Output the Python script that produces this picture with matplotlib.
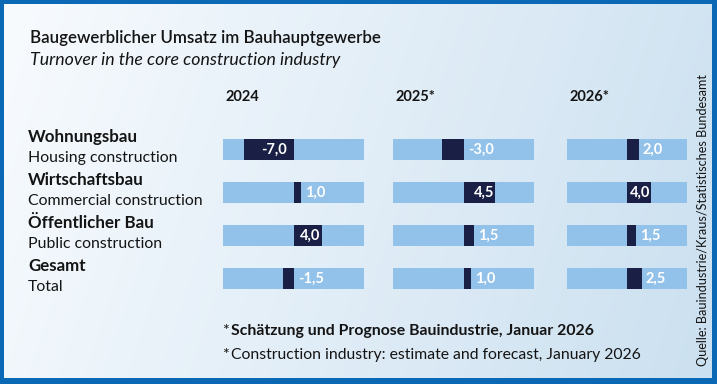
import matplotlib
matplotlib.use("Agg")
import matplotlib.pyplot as plt
import numpy as np
from matplotlib.patches import Rectangle

# ── Daten ─────────────────────────────────────────────
YEARS = ["2024", "2025*", "2026*"]
ROWS_DE = ["Wohnungsbau", "Wirtschaftsbau", "Öffentlicher Bau", "Gesamt"]
ROWS_EN = ["Housing construction", "Commercial construction",
           "Public construction", "Total"]
V_2024 = [-7.0, 1.0, 4.0, -1.5]
V_2025 = [-3.0, 4.5, 1.5, 1.0]
V_2026 = [2.0, 4.0, 1.5, 2.5]
VALUES = [V_2024, V_2025, V_2026]

TITLE_DE = "Baugewerblicher Umsatz im Bauhauptgewerbe"
TITLE_EN = "Turnover in the core construction industry"
NOTE_DE = "Schätzung und Prognose Bauindustrie, Januar 2026"
NOTE_EN = "Construction industry: estimate and forecast, January 2026"
SOURCE = "Quelle: Bauindustrie/Kraus/Statistisches Bundesamt"

LIGHT = "#92c1e9"
DARK = "#1a1f45"
FRAME = "#0b68b4"
TXT = "#141414"
W, H = 717, 384

plt.rcParams["font.family"] = ["Lato", "DejaVu Sans"]

fig = plt.figure(figsize=(W / 100, H / 100), dpi=100)
fig.patch.set_facecolor("white")

# Hintergrund in Pixelkoordinaten
bg = fig.add_axes([0, 0, 1, 1])
bg.set_xlim(0, W)
bg.set_ylim(H, 0)
bg.axis("off")
bg.add_patch(Rectangle((0, 0), 716, 383, color=FRAME, zorder=0))
c0 = np.array([0xf8, 0xfb, 0xfe]) / 255
c1 = np.array([0xcb, 0xe0, 0xf0]) / 255
xx = np.linspace(0, 1, 256)
yy = np.linspace(0, 1, 64)[:, None]
t = np.clip(0.85 * xx[None, :] + 0.15 * yy, 0, 1)
grad = c0[None, None, :] * (1 - t[..., None]) + c1[None, None, :] * t[..., None]
bg.imshow(grad, extent=[4, 712, 378, 4], aspect="auto", zorder=1)

bg.text(30, 38, TITLE_DE, fontsize=12.2, weight=600, color=TXT,
        va="center", zorder=3)
bg.text(30, 60, TITLE_EN, fontsize=12.8, style="italic", color=TXT,
        va="center", zorder=3)

for i, (de, en) in enumerate(zip(ROWS_DE, ROWS_EN)):
    y = 137 + i * 43
    bg.text(28, y, de, fontsize=12.2, weight="bold", color=TXT,
            va="center", zorder=3)
    bg.text(28, y + 21, en, fontsize=11.4, color=TXT, va="center", zorder=3)

bg.text(222, 331, "*", fontsize=11.5, color=TXT, va="center", zorder=3)
bg.text(231, 331, NOTE_DE, fontsize=11.45, weight="bold", color=TXT,
        va="center", zorder=3)
bg.text(222, 355, "*", fontsize=11.5, color=TXT, va="center", zorder=3)
bg.text(231, 355, NOTE_EN, fontsize=11.35, color=TXT, va="center", zorder=3)
bg.text(703, 220, SOURCE, fontsize=9.05, rotation=90, color=TXT,
        ha="center", va="center", zorder=3)

# Spalten: linke Kante, Breite (px)
COLS = [(223, 141), (393, 141), (567, 120)]
TOP, BOT = 128, 300


def fmt(v):
    return f"{v:.1f}".replace(".", ",")


for (x0, w), year, vals in zip(COLS, YEARS, VALUES):
    bg.text(x0 + 3, 97, year, fontsize=10.5, weight="bold", color=TXT,
            va="center", zorder=3)
    ax = fig.add_axes([x0 / W, 1 - BOT / H, w / W, (BOT - TOP) / H])
    ax.set_xlim(-10, 10)
    ax.set_ylim(3.5, -0.5)
    ax.axis("off")
    ax.patch.set_alpha(0)
    ypos = np.arange(len(vals))
    ax.barh(ypos, 20, left=-10, height=0.49, color=LIGHT, zorder=1)
    ax.barh(ypos, vals, height=0.49, color=DARK, zorder=2)
    for y, v in zip(ypos, vals):
        if v >= 4:
            ax.text(v - 0.2, y, fmt(v), ha="right", va="center",
                    color="white", weight="bold", fontsize=10.5, zorder=3)
        elif v <= -4:
            ax.text(-1.0, y, fmt(v), ha="right", va="center",
                    color="white", weight="bold", fontsize=10.5, zorder=3)
        else:
            ax.text(max(v, 0) + 0.6, y, fmt(v), ha="left", va="center",
                    color="white", weight="bold", fontsize=10.5, zorder=3)

fig.savefig("out.png", dpi=100)
